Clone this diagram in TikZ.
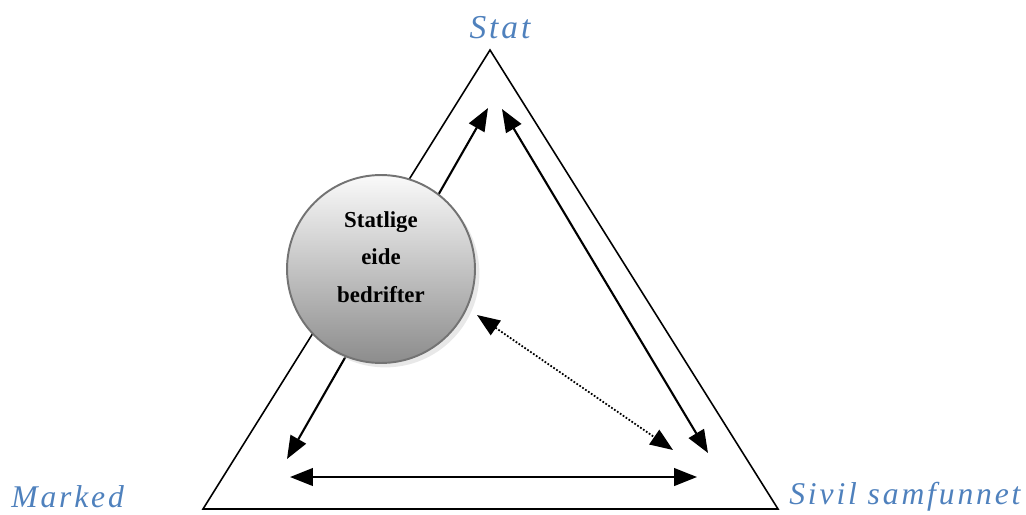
\documentclass[tikz,border=0pt]{standalone}
\usepackage{fontspec}
\setmainfont{Liberation Serif}
\newfontfamily\labelfont[LetterSpace=9]{Liberation Serif}
\usepackage{tikz}
\usetikzlibrary{arrows.meta,shadows}

\definecolor{hjorne}{HTML}{4F81BD}

\begin{document}
\begin{tikzpicture}[x=0.02cm,y=-0.02cm,
    sektor/.style={font=\labelfont\itshape\fontsize{18}{20}\selectfont,text=hjorne,inner sep=0pt},
    pil/.style={{Triangle[length=13pt,width=10pt]}-{Triangle[length=13pt,width=10pt]},line width=1.2pt},
    prikk/.style={pil,line width=1pt,densely dotted},
    bedrift/.style={circle,draw=black!55,line width=1.1pt,minimum size=3.76cm,
        top color=gray!4,bottom color=black!45,
        drop shadow={shadow xshift=2.5pt,shadow yshift=-2.5pt,fill=gray!35}}]
    \useasboundingbox (0,0) rectangle (1026,514);
    % hjornene
    \coordinate (stat) at (490,50);
    \coordinate (marked) at (203,509);
    \coordinate (sivil) at (778,509);
    \draw[line width=0.9pt,line join=miter] (stat) -- (marked) -- (sivil) -- cycle;
    \node[sektor,font=\labelfont\itshape\fontsize{19}{21}\selectfont] (lstat) at (500,28) {Stat};
    \node[sektor,anchor=west] (lmarked) at (11,497) {Marked};
    \node[sektor,anchor=west] (lsivil) at (789,497) {Sivil samfunnet};
    % pilendene
    \coordinate (s1) at (488,108);
    \coordinate (m1) at (287,459);
    \coordinate (s2) at (502,109);
    \coordinate (v2) at (708,453);
    \coordinate (m3) at (290,477);
    \coordinate (v3) at (697,477);
    \coordinate (b4) at (477,315);
    \coordinate (v4) at (673,450);
    \path[pil]
        (m1) edge (s1)
        (s2) edge (v2)
        (m3) edge (v3);
    \path[prikk] (b4) edge (v4);
    % sirkelen
    \node[bedrift] (sirkel) at (381,269) {};
    \node[font=\bfseries\fontsize{13}{21.5}\selectfont,align=center] (tekst)
        at ([yshift=0.24cm]sirkel.center) {Statlige\\eide\\bedrifter};
\end{tikzpicture}
\end{document}
